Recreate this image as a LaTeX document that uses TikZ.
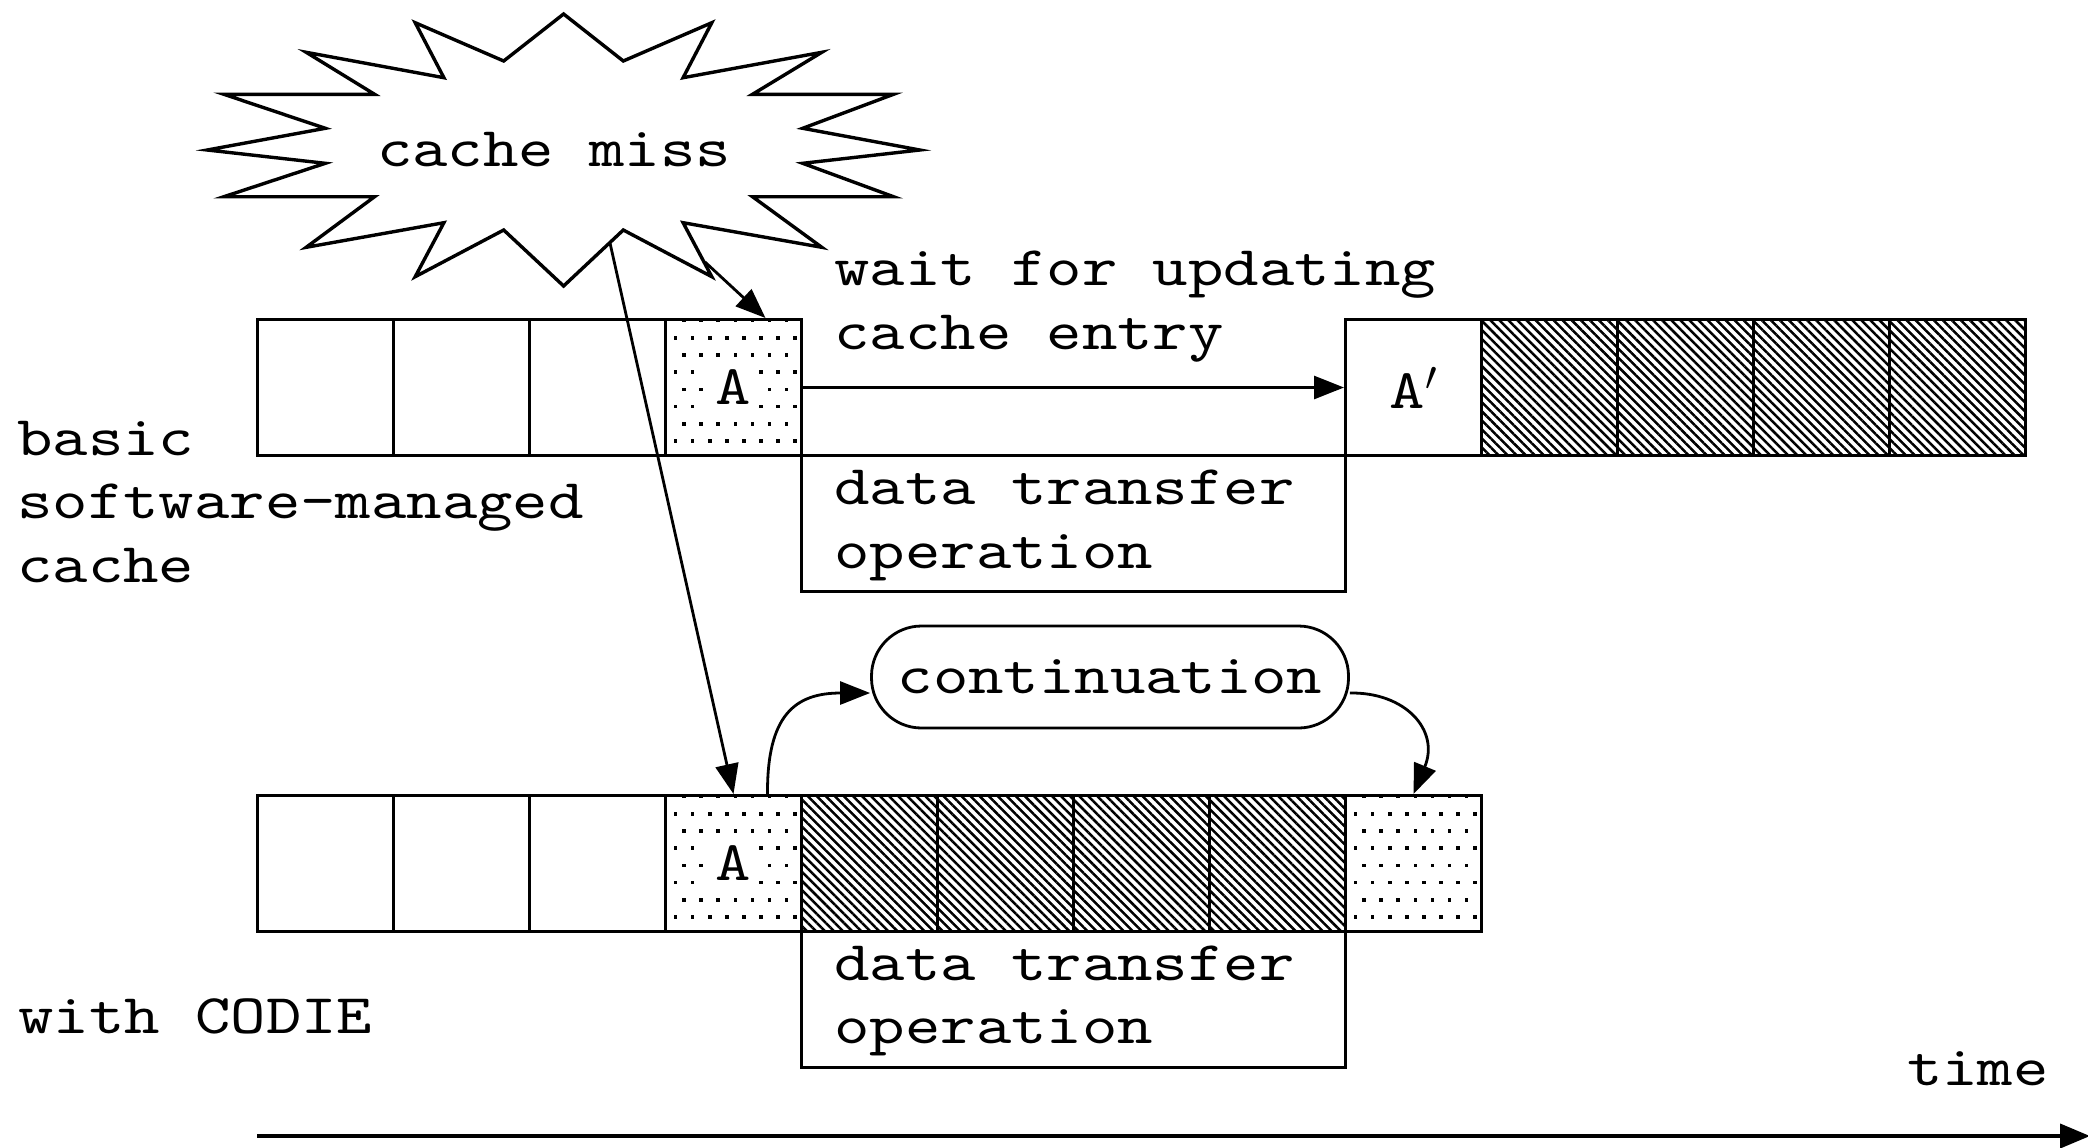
\documentclass[tikz,border=0pt]{standalone}
\usepackage{fontspec}
\newfontfamily\cmono{lmmono10-regular.otf}[FakeStretch=1.204]
\usetikzlibrary{arrows.meta,patterns.meta}
\begin{document}
\begin{tikzpicture}[x=0.5pt,y=-0.5pt,
  every node/.style={font=\cmono\fontsize{28pt}{31.65pt}\selectfont, inner sep=0pt},
  cellbox/.style={draw, line width=1.5pt, minimum width=68pt, minimum height=68pt, inner sep=0pt},
  hatchcell/.style={cellbox, pattern={Lines[angle=-45,distance=3.2pt,line width=1.25pt]}},
  dotcell/.style={cellbox, path picture={
    \foreach \j in {0,...,7}{
      \foreach \i in {0,...,7}{
        \fill ([xshift={4.1pt+(1-mod(\j,2))*4.25pt+\i*8.55pt}, yshift={-(\j*8.6pt-0.4pt)}]path picture bounding box.north west) rectangle ++(1.8pt,-1.8pt);
      }
    }}},
  clearlbl/.style={fill=white, inner xsep=4pt, inner ysep=6pt},
  txt/.style={anchor=base west, align=left},
  xferbox/.style={draw, line width=1.4pt, minimum width=272pt, minimum height=68pt},
  arr/.style={-{Triangle[length=15pt,width=11.5pt]}, line width=1.4pt},
]
\useasboundingbox (0,0) rectangle (2088,1147);

% cache miss burst
\draw[line width=1.7pt, line join=miter] (563.6,14) -- (623.3,61) -- (711.8,22.7) -- (683.1,77.7) -- (821.8,52.3) -- (752.5,94.3) -- (893.5,94.3) -- (802.7,128.3) -- (919.8,150) -- (802.7,163.3) -- (893.5,196.7) -- (752.5,196.7) -- (821.8,247.3) -- (683.1,222.7) -- (711.8,276.7) -- (623.3,230) -- (563.6,286) -- (503.7,230) -- (415.2,276.7) -- (443.9,222.7) -- (306.2,247.3) -- (374.6,196.7) -- (223.9,196.7) -- (325.3,163.3) -- (207.2,150) -- (325.3,128.3) -- (223.9,94.3) -- (374.6,94.3) -- (306.2,52.3) -- (443.9,77.7) -- (415.2,22.7) -- (503.7,61) -- cycle;
\node[anchor=base] (miss) at (554,166) {cache miss};
\coordinate (miss1) at (610,243);
\coordinate (miss2) at (705,262);

% top row
\node[cellbox] (t1) at (325.5,387.5) {};
\node[cellbox] (t2) at (461.5,387.5) {};
\node[cellbox] (t3) at (597.5,387.5) {};
\node[dotcell] (tA) at (733.5,387.5) {};
\node[clearlbl] (tAl) at (tA) {A};
\node[xferbox] (tx) at (1073.5,523.5) {};
\node[cellbox] (tAp) at (1413.5,387.5) {A$'$};
\node[hatchcell] (t6) at (1549.5,387.5) {};
\node[hatchcell] (t7) at (1685.5,387.5) {};
\node[hatchcell] (t8) at (1821.5,387.5) {};
\node[hatchcell] (t9) at (1957.5,387.5) {};

% bottom row
\node[cellbox] (b1) at (325.5,863.5) {};
\node[cellbox] (b2) at (461.5,863.5) {};
\node[cellbox] (b3) at (597.5,863.5) {};
\node[dotcell] (bA) at (733.5,863.5) {};
\node[clearlbl] (bAl) at (bA) {A};
\node[hatchcell] (b5) at (869.5,863.5) {};
\node[hatchcell] (b6) at (1005.5,863.5) {};
\node[hatchcell] (b7) at (1141.5,863.5) {};
\node[hatchcell] (b8) at (1277.5,863.5) {};
\node[dotcell] (b9) at (1413.5,863.5) {};
\node[xferbox] (bx) at (1073.5,999.5) {};

% texts (base anchor = baseline of the last line)
\node[txt] (wait) at (834,349) {wait for updating\\cache entry};
\node[txt] (txt1) at (834,568) {data transfer\\operation};
\node[txt] (txt2) at (834,1043.6) {data transfer\\operation};
\node[txt] (basic) at (17,582) {basic\\software-managed\\cache};
\node[txt] (codie) at (18,1033) {with CODIE};
\node[anchor=base east] (time) at (2049,1085) {time};

% continuation
\node[draw, line width=1.4pt, minimum width=238.5pt, minimum height=51pt, rounded corners=25pt] (cont) at (1110,677) {continuation};

% arrows
\draw[arr] (miss2) -- ([xshift=16pt]tA.north);
\draw[arr] (miss1) -- (bA.north);
\draw[arr] (tA.east) -- (tAp.west);
\draw[arr] ([xshift=17pt]bA.north) .. controls (767,715) and (795,693) .. ([yshift=-8pt]cont.west);
\draw[arr] ([yshift=-8pt]cont.east) .. controls (1405,692) and (1440,730) .. (b9.north);

% time axis
\coordinate (t0) at (257,1136);
\coordinate (t1e) at (2090,1136);
\draw[line width=2pt, -{Triangle[length=15pt,width=12pt]}] (t0) -- (t1e);
\end{tikzpicture}
\end{document}
